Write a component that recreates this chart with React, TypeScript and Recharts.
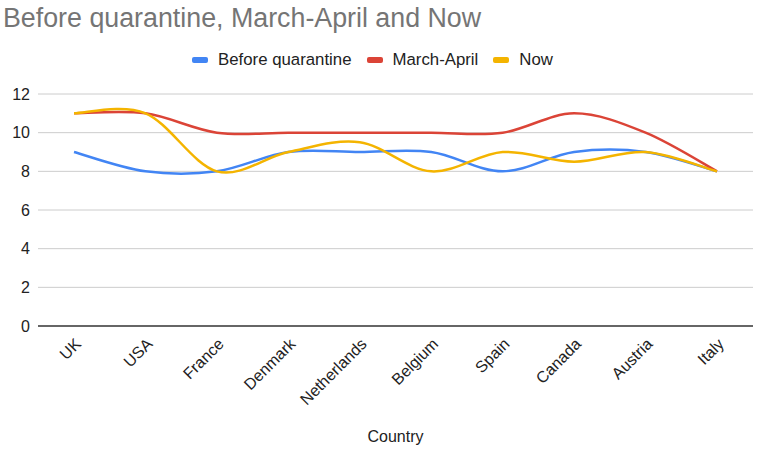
import React from 'react';
import { LineChart, Line, XAxis, YAxis, CartesianGrid, Legend } from 'recharts';

const countries = ['UK', 'USA', 'France', 'Denmark', 'Netherlands', 'Belgium', 'Spain', 'Canada', 'Austria', 'Italy'];
const beforeQuarantine = [9, 8, 8, 9, 9, 9, 8, 9, 9, 8];
const marchApril = [11, 11, 10, 10, 10, 10, 10, 11, 10, 8];
const nowValues = [11, 11, 8, 9, 9.5, 8, 9, 8.5, 9, 8];
const yTicks = [0, 2, 4, 6, 8, 10, 12];

const FONT = '"Liberation Sans", Arial, sans-serif';

const data = countries.map((country, i) => ({
  country,
  before: beforeQuarantine[i],
  marchApril: marchApril[i],
  now: nowValues[i],
}));

// Catmull-Rom style smoothing, close to what Sheets draws for "smooth" lines
const smoothCurve = (context: any) => {
  let pts: number[][] = [];
  return {
    areaStart() {},
    areaEnd() {},
    lineStart() {
      pts = [];
    },
    point(x: number, y: number) {
      pts.push([+x, +y]);
    },
    lineEnd() {
      if (!pts.length) return;
      context.moveTo(pts[0][0], pts[0][1]);
      for (let i = 0; i < pts.length - 1; i++) {
        const p0 = pts[i - 1] || pts[i];
        const p1 = pts[i];
        const p2 = pts[i + 1];
        const p3 = pts[i + 2] || p2;
        context.bezierCurveTo(
          p1[0] + (p2[0] - p0[0]) / 6,
          p1[1] + (p2[1] - p0[1]) / 6,
          p2[0] - (p3[0] - p1[0]) / 6,
          p2[1] - (p3[1] - p1[1]) / 6,
          p2[0],
          p2[1],
        );
      }
    },
  };
};

const CountryTick = ({ x, y, payload }: any) => {
  const ax = x + 8;
  const ay = y + 19;
  return (
    <text
      x={ax}
      y={ay}
      textAnchor="end"
      transform={`rotate(-45, ${ax}, ${ay})`}
      fontSize={16}
      fontFamily={FONT}
      fill="#222"
    >
      {payload.value}
    </text>
  );
};

const LegendContent = ({ payload }: any) => (
  <div
    style={{
      display: 'flex',
      justifyContent: 'center',
      alignItems: 'center',
      fontFamily: FONT,
      fontSize: 16.8,
      color: '#222',
      paddingRight: 10,
    }}
  >
    {(payload || []).map((entry: any) => (
      <div key={entry.value} style={{ display: 'flex', alignItems: 'center', marginRight: 15 }}>
        <span
          style={{
            display: 'inline-block',
            width: 16,
            height: 6,
            borderRadius: 2,
            background: entry.color,
            marginRight: 10,
          }}
        />
        <span>{entry.value}</span>
      </div>
    ))}
  </div>
);

export default function App() {
  return (
    <div style={{ position: 'absolute', left: 0, top: 0, width: 770, height: 461, background: '#fff' }}>
      <div
        style={{
          position: 'absolute',
          left: 3,
          top: 5,
          fontFamily: FONT,
          fontSize: 26.8,
          lineHeight: 1,
          color: '#757575',
          whiteSpace: 'nowrap',
          zIndex: 2,
        }}
      >
        Before quarantine, March-April and Now
      </div>
      <LineChart width={770} height={461} data={data} margin={{ top: 94, right: 17, bottom: 0, left: 0 }}>
        <CartesianGrid vertical={false} stroke="#cccccc" />
        <XAxis
          dataKey="country"
          padding={{ left: 36, right: 36 }}
          height={135}
          tickLine={false}
          tickSize={0}
          tickMargin={0}
          interval={0}
          axisLine={{ stroke: '#666', strokeWidth: 2 }}
          tick={<CountryTick />}
          label={{
            value: 'Country',
            position: 'insideBottom',
            offset: 19,
            fontSize: 16,
            fontFamily: FONT,
            fill: '#222',
          }}
        />
        <YAxis
          domain={[0, 12]}
          ticks={yTicks}
          width={38}
          axisLine={false}
          tickLine={false}
          tickSize={0}
          tickMargin={8}
          tick={{ fontSize: 16, fontFamily: FONT, fill: '#222' }}
        />
        <Legend
          verticalAlign="middle"
          align="center"
          wrapperStyle={{ position: 'absolute', top: 50, left: 0, width: 770 }}
          content={<LegendContent />}
        />
        <Line
          type={smoothCurve as any}
          dataKey="before"
          name="Before quarantine"
          stroke="#4285F4"
          strokeWidth={2.5}
          dot={false}
          isAnimationActive={false}
        />
        <Line
          type={smoothCurve as any}
          dataKey="marchApril"
          name="March-April"
          stroke="#DB4437"
          strokeWidth={2.5}
          dot={false}
          isAnimationActive={false}
        />
        <Line
          type={smoothCurve as any}
          dataKey="now"
          name="Now"
          stroke="#F4B400"
          strokeWidth={2.5}
          dot={false}
          isAnimationActive={false}
        />
      </LineChart>
    </div>
  );
}
